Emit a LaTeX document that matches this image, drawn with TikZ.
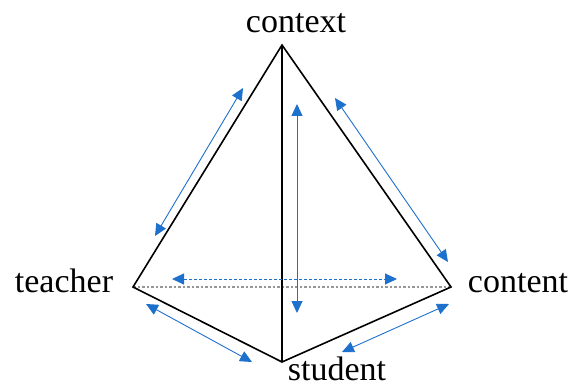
\documentclass[tikz,border=0pt]{standalone}
\usepackage{fontspec}
\setmainfont{Liberation Serif}
\usetikzlibrary{arrows.meta}
\definecolor{arrblue}{RGB}{30,112,205}
\definecolor{edgegray}{RGB}{150,150,150}
\begin{document}
\begin{tikzpicture}[x=1pt,y=-1pt,
  edge/.style={line width=1.6pt,black,line join=miter},
  rel/.style={line width=0.9pt,arrblue,{Triangle[width=11pt,length=12pt]}-{Triangle[width=11pt,length=12pt]}},
  lbl/.style={font=\fontsize{34}{40}\selectfont,anchor=base,inner sep=0pt}]
\useasboundingbox (0,0) rectangle (573,385);
% vertices
\coordinate (A) at (282,45);
\coordinate (T) at (133,287);
\coordinate (C) at (451,287);
\coordinate (S) at (282,362);
% labels
\node[lbl] (lcontext) at (296,33) {context};
\node[lbl] (lteacher) at (64,292) {teacher};
\node[lbl] (lcontent) at (518,292) {content};
\node[lbl] (lstudent) at (337,380) {student};
% hidden edge
\draw[edgegray,line width=1.3pt,dash pattern=on 2.5pt off 2pt] (T) -- (C);
% visible edges
\draw[edge] (T) -- (A) -- (C) -- (S) -- cycle;
\draw[edge] (A) -- (S);
% arrow endpoints
\coordinate (l1) at (155,236); \coordinate (l2) at (243,88);
\coordinate (r1) at (335,98); \coordinate (r2) at (448,262);
\coordinate (v1) at (297,104); \coordinate (v2) at (297,313);
\coordinate (h1) at (172,279); \coordinate (h2) at (397,279);
\coordinate (bl1) at (146,304); \coordinate (bl2) at (252,362);
\coordinate (br1) at (342,352); \coordinate (br2) at (449,304);
% arrows
\draw[rel] (l1) -- (l2);
\draw[rel] (r1) -- (r2);
\draw[rel] (v1) -- (v2);
\draw[rel,dash pattern=on 3pt off 2pt] (h1) -- (h2);
\draw[rel] (bl1) -- (bl2);
\draw[rel] (br1) -- (br2);
\end{tikzpicture}
\end{document}
